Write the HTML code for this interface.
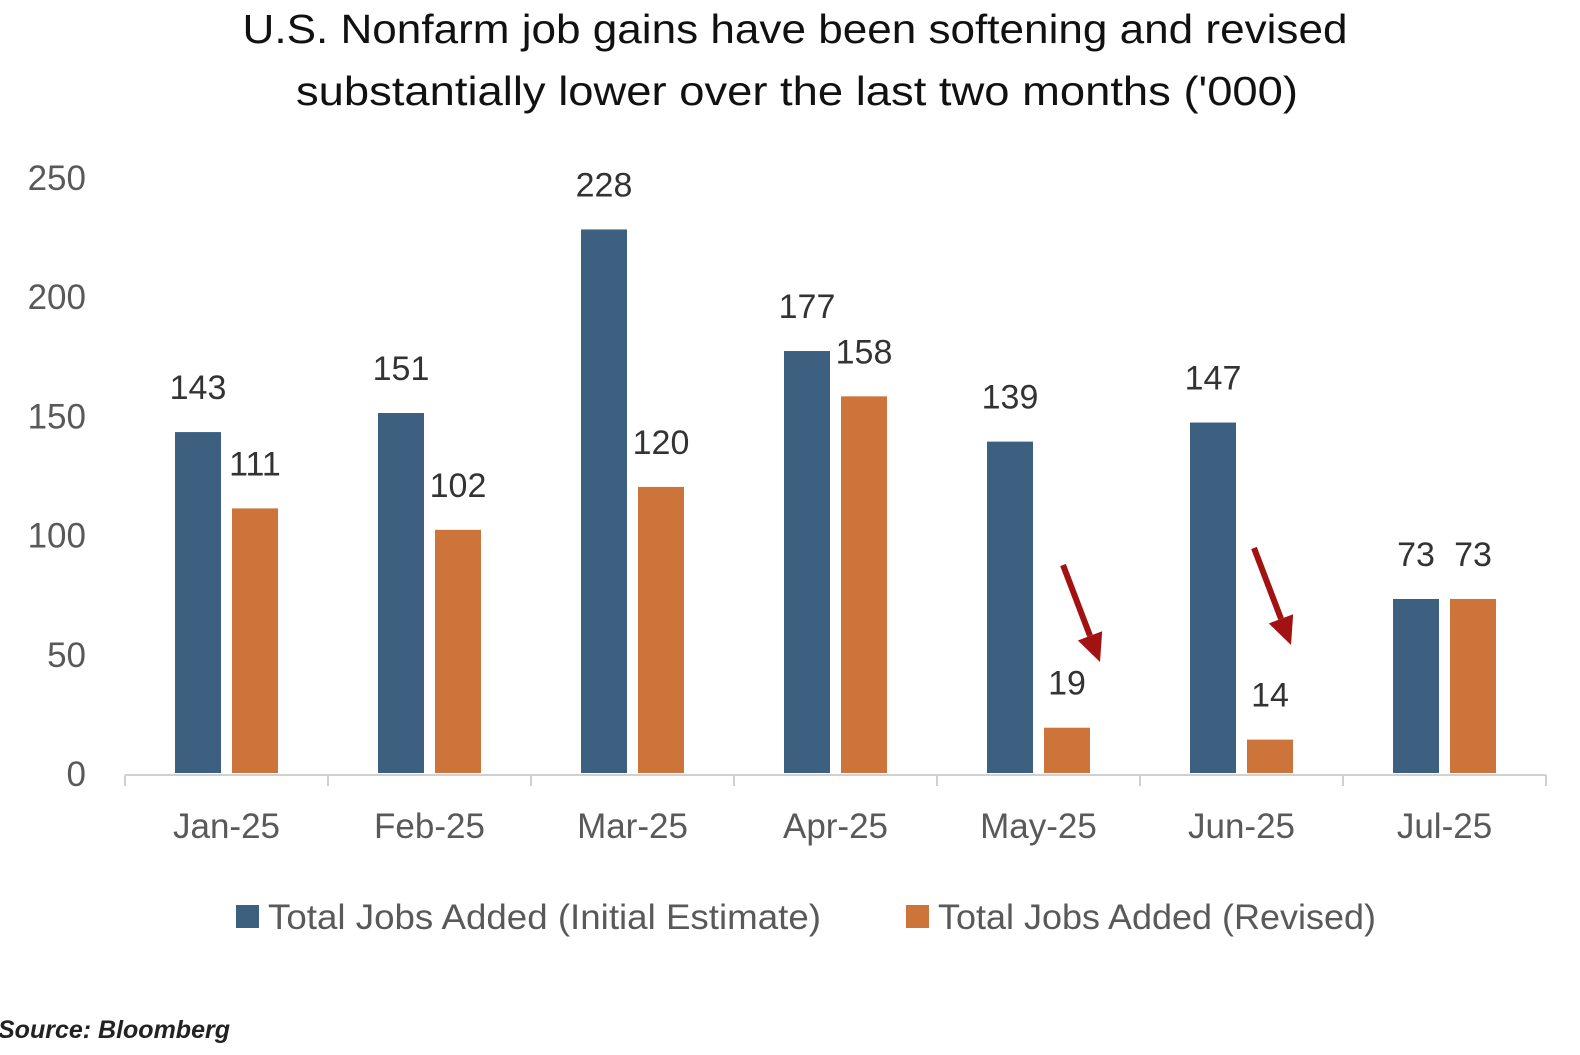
<!DOCTYPE html>
<html><head><meta charset="utf-8"><style>
body{margin:0;background:#fff;width:1580px;height:1050px;overflow:hidden;font-family:"Liberation Sans",sans-serif}
</style></head><body>
<svg id="chart" width="1580" height="1050" xmlns="http://www.w3.org/2000/svg">
<rect width="1580" height="1050" fill="#fff"/>
<text x="795" y="43" font-size="41" text-anchor="middle" fill="#111" textLength="1105" lengthAdjust="spacingAndGlyphs">U.S. Nonfarm job gains have been softening and revised</text>
<text x="797" y="105" font-size="41" text-anchor="middle" fill="#111" textLength="1002" lengthAdjust="spacingAndGlyphs">substantially lower over the last two months ('000)</text>
<g id="yaxis"></g>
<g id="xaxis"></g>
<g id="bars"></g>
<g id="arrows"></g>
<g>
<rect x="236" y="905" width="23" height="23" fill="#3d5f80"/>
<text x="268" y="929" font-size="35" fill="#595959" textLength="553" lengthAdjust="spacingAndGlyphs">Total Jobs Added (Initial Estimate)</text>
<rect x="906" y="905" width="23" height="23" fill="#cd743a"/>
<text x="938" y="929" font-size="35" fill="#595959" textLength="438" lengthAdjust="spacingAndGlyphs">Total Jobs Added (Revised)</text>
</g>
<text x="-2" y="1038" font-size="25" font-weight="bold" font-style="italic" fill="#222">Source: Bloomberg</text>
</svg>
<script>
const categories=["Jan-25","Feb-25","Mar-25","Apr-25","May-25","Jun-25","Jul-25"];
const initialValues=[143,151,228,177,139,147,73];
const revisedValues=[111,102,120,158,19,14,73];
const yTicks=[0,50,100,150,200,250];
const arrowCats=[4,5];
const NS="http://www.w3.org/2000/svg";
const x0=125,x1=1546,y0=773,yTop=177,yMax=250;
const bw=(x1-x0)/categories.length;
function ys(v){return y0-(v/yMax)*(y0-yTop);}
function xc(i){return x0+bw*(i+0.5);}
function mk(t,a,p){const e=document.createElementNS(NS,t);for(const k in a)e.setAttribute(k,a[k]);p.appendChild(e);return e;}
const ya=document.getElementById('yaxis'),xa=document.getElementById('xaxis'),bars=document.getElementById('bars'),ar=document.getElementById('arrows');
yTicks.forEach(t=>{const e=mk('text',{x:86,y:ys(t)+13,'font-size':35,'text-anchor':'end',fill:'#595959'},ya);e.textContent=t;

});
const ax=mk('line',{x1:x0,x2:x1,y1:775,y2:775,stroke:'#d0d0d0','stroke-width':2},xa);


for(let i=0;i<=categories.length;i++){const t=mk('line',{x1:x0+bw*i,x2:x0+bw*i,y1:775,y2:786,stroke:'#d0d0d0','stroke-width':2},xa);

}
categories.forEach((c,i)=>{const e=mk('text',{x:xc(i),y:838,'font-size':35,'text-anchor':'middle',fill:'#595959'},xa);e.textContent=c;


const series=[[initialValues[i],'#3d5f80',-51.5,'initial'],[revisedValues[i],'#cd743a',5.5,'revised']];
series.forEach(s=>{const v=s[0],bx=xc(i)+s[2];
const r=mk('rect',{x:bx,y:ys(v),width:46,height:y0-ys(v),fill:s[1]},bars);


const l=mk('text',{x:bx+23,y:ys(v)-33,'font-size':34,'text-anchor':'middle',fill:'#333'},bars);l.textContent=v;

});});
arrowCats.forEach(i=>{
const tipX=(i==4?1100:1291),tipY=(i==4?662:645),sx=tipX-37,sy=tipY-97;
const g=mk('g',{},ar);


const dx=tipX-sx,dy=tipY-sy,L=Math.hypot(dx,dy),ux=dx/L,uy=dy/L,bxp=tipX-ux*28,byp=tipY-uy*28;
mk('line',{x1:sx,y1:sy,x2:bxp,y2:byp,stroke:'#a31212','stroke-width':6},g);
mk('polygon',{points:`${tipX},${tipY} ${bxp-uy*13},${byp+ux*13} ${bxp+uy*13},${byp-ux*13}`,fill:'#a31212'},g);});
</script>
</body></html>
